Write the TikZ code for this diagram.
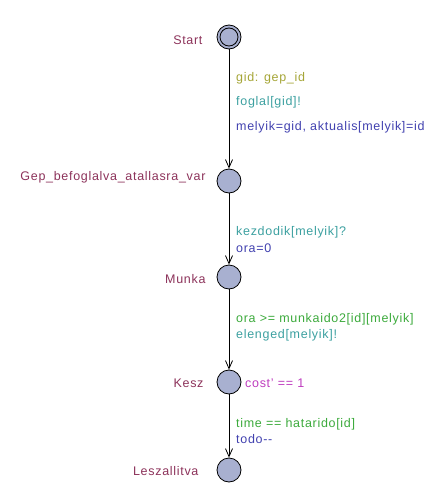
\documentclass[tikz,border=0pt]{standalone}
\usepackage{fontspec}
\setmainfont{Liberation Sans}[LetterSpace=5.6]
\usetikzlibrary{arrows.meta}
\definecolor{locname}{RGB}{140,50,90}
\definecolor{selectc}{RGB}{165,165,55}
\definecolor{syncc}{RGB}{60,160,160}
\definecolor{assignc}{RGB}{65,65,175}
\definecolor{guardc}{RGB}{60,170,60}
\definecolor{invc}{RGB}{190,60,190}
\definecolor{statefill}{RGB}{168,176,208}
\tikzset{
	state/.style={circle, draw=black, fill=statefill, line width=0.8pt, minimum size=24pt, inner sep=0pt},
	locname/.style={text=locname, anchor=east, font=\fontsize{12.5}{15}\selectfont},
	edgelbl/.style={anchor=west, font=\fontsize{12.5}{15}\selectfont, inner sep=0pt},
	trans/.style={line width=0.8pt, -{Straight Barb[length=8pt,width=7pt]}}
}
\begin{document}
\begin{tikzpicture}[x=1pt,y=-1pt]
	\useasboundingbox (0,0) rectangle (437,498);
	\node[state] (start) at (229,37) {};
	\draw[line width=0.8pt] (start) circle (9pt);
	\node[state] (gep) at (229,181) {};
	\node[state] (munka) at (229,277) {};
	\node[state] (kesz) at (229,382) {};
	\node[state] (lesz) at (229,470) {};
	\node[locname] at (206,40) {Start};
	\node[locname] at (209,177) {Gep\_befoglalva\_atallasra\_var};
	\node[locname] at (209,279) {Munka};
	\node[locname] at (207,383) {Kesz};
	\node[locname] at (202,471) {Leszallitva};
	\node[edgelbl, text=invc] at (245,383) {cost' == 1};
	\draw[trans] (start) -- (gep);
	\draw[trans] (gep) -- (munka);
	\draw[trans] (munka) -- (kesz);
	\draw[trans] (kesz) -- (lesz);
	\node[edgelbl, text=selectc] at (236,78) {gid: gep\_id};
	\node[edgelbl, text=syncc] at (236,102) {foglal[gid]!};
	\node[edgelbl, text=assignc] at (236,127) {melyik=gid, aktualis[melyik]=id};
	\node[edgelbl, text=syncc] at (236,232) {kezdodik[melyik]?};
	\node[edgelbl, text=assignc] at (236,248) {ora=0};
	\node[edgelbl, text=guardc] at (236,319) {ora >= munkaido2[id][melyik]};
	\node[edgelbl, text=syncc] at (236,335) {elenged[melyik]!};
	\node[edgelbl, text=guardc] at (236,424) {time == hatarido[id]};
	\node[edgelbl, text=assignc] at (236,439) {todo-{}-};
\end{tikzpicture}
\end{document}
